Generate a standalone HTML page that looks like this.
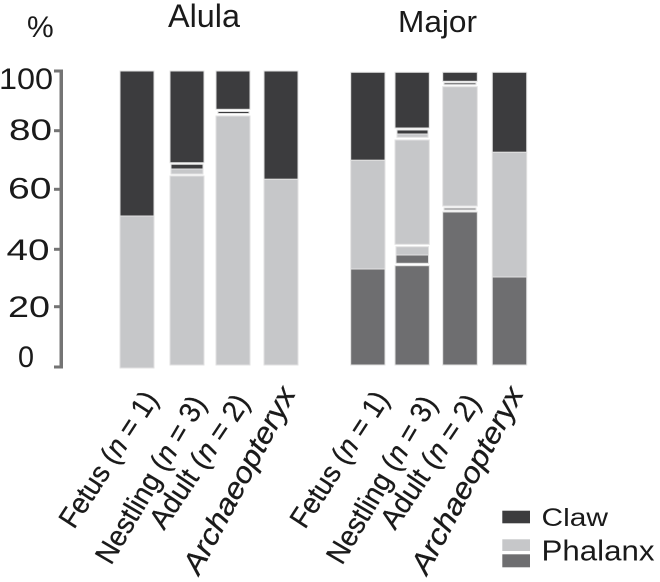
<!DOCTYPE html>
<html>
<head>
<meta charset="utf-8">
<style>
  html, body { margin: 0; padding: 0; background: #ffffff; }
  svg { display: block; }
  text { font-family: "Liberation Sans", "DejaVu Sans", sans-serif; fill: #1a1a1a; }
</style>
</head>
<body>
<svg width="660" height="582" viewBox="0 0 660 582" xmlns="http://www.w3.org/2000/svg">
  <!-- titles -->
  <text x="27" y="37" font-size="30">%</text>
  <text x="168" y="27" font-size="32" textLength="72" lengthAdjust="spacingAndGlyphs">Alula</text>
  <text x="398" y="32" font-size="31" textLength="79" lengthAdjust="spacingAndGlyphs">Major</text>

  <!-- y axis -->
  <g fill="#747474">
    <rect x="59.5" y="70" width="3.5" height="298.5"/>
    <rect x="54" y="69.5" width="9" height="3"/>
    <rect x="54" y="129.2" width="6" height="3"/>
    <rect x="54" y="187.8" width="6" height="3"/>
    <rect x="54" y="247.8" width="6" height="3"/>
    <rect x="54" y="305.2" width="6" height="3"/>
    <rect x="54" y="365.5" width="9" height="3"/>
  </g>
  <g font-size="30">
    <text x="-1" y="89" textLength="54" lengthAdjust="spacingAndGlyphs">100</text>
    <text x="9" y="140" textLength="43" lengthAdjust="spacingAndGlyphs">80</text>
    <text x="8" y="198.5" textLength="43.5" lengthAdjust="spacingAndGlyphs">60</text>
    <text x="6.5" y="260" textLength="43" lengthAdjust="spacingAndGlyphs">40</text>
    <text x="8" y="317" textLength="42" lengthAdjust="spacingAndGlyphs">20</text>
    <text x="18" y="367" textLength="16" lengthAdjust="spacingAndGlyphs">0</text>
  </g>

  <!-- bars -->
  <g stroke="#e2e2e2" stroke-width="1">
    <!-- Alula bar 1 -->
    <rect x="120" y="71" width="34" height="145" fill="#3c3c3e"/>
    <rect x="120" y="216" width="34" height="152" fill="#c6c7c9"/>
    <!-- Alula bar 2 -->
    <rect x="170" y="71" width="34" height="91.7" fill="#3c3c3e"/>
    <rect x="171" y="164.3" width="32" height="4.7" fill="#3c3c3e"/>
    <rect x="171" y="169" width="32" height="5" fill="#c6c7c9"/>
    <rect x="170" y="176" width="34" height="189" fill="#c6c7c9"/>
    <!-- Alula bar 3 -->
    <rect x="216" y="71" width="34" height="38.3" fill="#3c3c3e"/>
    <rect x="218" y="111.5" width="31" height="2" fill="#3c3c3e"/>
    <rect x="216" y="116" width="34" height="249" fill="#c6c7c9"/>
    <!-- Alula bar 4 -->
    <rect x="264" y="71" width="34" height="108.3" fill="#3c3c3e"/>
    <rect x="264" y="179.3" width="34" height="185.7" fill="#c6c7c9"/>

    <!-- Major bar 1 -->
    <rect x="350.7" y="72.3" width="34.3" height="88" fill="#3c3c3e"/>
    <rect x="350.7" y="160.3" width="34.3" height="108.7" fill="#c6c7c9"/>
    <rect x="350.7" y="269" width="34.3" height="96" fill="#6e6e70"/>
    <!-- Major bar 2 -->
    <rect x="395" y="72.3" width="34.3" height="55.7" fill="#3c3c3e"/>
    <rect x="397" y="130" width="31" height="4" fill="#3c3c3e"/>
    <rect x="397" y="134" width="31" height="3.3" fill="#c6c7c9"/>
    <rect x="395" y="140" width="34.3" height="104.3" fill="#c6c7c9"/>
    <rect x="396" y="246.7" width="32.5" height="8.3" fill="#c6c7c9"/>
    <rect x="396" y="255" width="32.5" height="8.3" fill="#6e6e70"/>
    <rect x="395" y="265.7" width="34.3" height="99.3" fill="#6e6e70"/>
    <!-- Major bar 3 -->
    <rect x="442.7" y="72.3" width="34.6" height="9" fill="#3c3c3e"/>
    <rect x="444" y="82.7" width="32" height="2" fill="#6e6e70"/>
    <rect x="442.7" y="86.7" width="34.6" height="119.3" fill="#c6c7c9"/>
    <rect x="444" y="208" width="32" height="2" fill="#8a8a8c"/>
    <rect x="442.7" y="212" width="34.6" height="153" fill="#6e6e70"/>
    <!-- Major bar 4 -->
    <rect x="492.3" y="72.3" width="34.4" height="80" fill="#3c3c3e"/>
    <rect x="492.3" y="152.3" width="34.4" height="124.7" fill="#c6c7c9"/>
    <rect x="492.3" y="277" width="34.4" height="88" fill="#6e6e70"/>
  </g>

  <!-- category labels (Alula) -->
  <g font-size="29" stroke="#1a1a1a" stroke-width="0.3">
    <text x="74" y="530" transform="rotate(-57 74 530)" textLength="156" lengthAdjust="spacingAndGlyphs">Fetus (<tspan font-style="italic">n</tspan> = 1)</text>
    <text x="111" y="566" transform="rotate(-59.5 111 566)" textLength="189" lengthAdjust="spacingAndGlyphs">Nestling (<tspan font-style="italic">n</tspan> = 3)</text>
    <text x="164" y="531" transform="rotate(-56 164 531)" textLength="155" lengthAdjust="spacingAndGlyphs">Adult (<tspan font-style="italic">n</tspan> = 2)</text>
    <text x="199" y="576" transform="rotate(-62 199 576)" textLength="207" lengthAdjust="spacingAndGlyphs" font-style="italic">Archaeopteryx</text>
  </g>
  <!-- category labels (Major) -->
  <g font-size="29" stroke="#1a1a1a" stroke-width="0.3">
    <text x="305" y="530" transform="rotate(-57 305 530)" textLength="156" lengthAdjust="spacingAndGlyphs">Fetus (<tspan font-style="italic">n</tspan> = 1)</text>
    <text x="342" y="566" transform="rotate(-59.5 342 566)" textLength="189" lengthAdjust="spacingAndGlyphs">Nestling (<tspan font-style="italic">n</tspan> = 3)</text>
    <text x="395" y="531" transform="rotate(-56 395 531)" textLength="155" lengthAdjust="spacingAndGlyphs">Adult (<tspan font-style="italic">n</tspan> = 2)</text>
    <text x="427" y="576" transform="rotate(-62 427 576)" textLength="207" lengthAdjust="spacingAndGlyphs" font-style="italic">Archaeopteryx</text>
  </g>

  <!-- legend -->
  <rect x="502.3" y="510.7" width="27.7" height="12.6" fill="#3c3c3e"/>
  <rect x="502.3" y="539.3" width="27.7" height="11.7" fill="#c6c7c9"/>
  <rect x="502.3" y="554.3" width="27.7" height="13" fill="#6e6e70"/>
  <text x="541.5" y="526" font-size="25" textLength="66.5" lengthAdjust="spacingAndGlyphs">Claw</text>
  <text x="541.5" y="560.7" font-size="29" textLength="113" lengthAdjust="spacingAndGlyphs">Phalanx</text>
</svg>
</body>
</html>
